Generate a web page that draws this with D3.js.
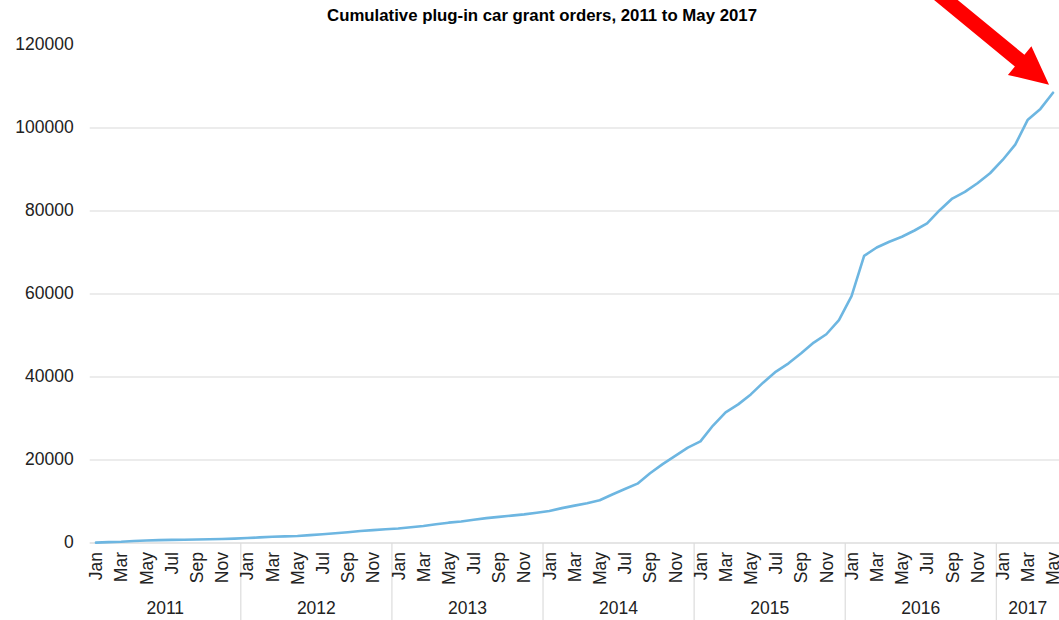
<!DOCTYPE html>
<html>
<head>
<meta charset="utf-8">
<script src="https://cdn.jsdelivr.net/npm/d3@7"></script>
<style>
  html, body { margin: 0; padding: 0; background: #fff; }
  svg { display: block; font-family: "Liberation Sans", Arial, sans-serif; }
</style>
</head>
<body>
<svg id="chart" width="1059" height="620"></svg>
<script>
// ---- data ----
const years = ["2011", "2012", "2013", "2014", "2015", "2016", "2017"];
const monthNames = ["Jan","Feb","Mar","Apr","May","Jun","Jul","Aug","Sep","Oct","Nov","Dec"];
const monthsPerYear = [12, 12, 12, 12, 12, 12, 5];
const values2011 = [100, 200, 300, 500, 600, 700, 750, 800, 850, 900, 950, 1050];
const values2012 = [1200, 1350, 1500, 1600, 1700, 1900, 2100, 2350, 2600, 2900, 3100, 3300];
const values2013 = [3500, 3800, 4100, 4500, 4900, 5200, 5600, 6000, 6300, 6600, 6900, 7300];
const values2014 = [7700, 8400, 9000, 9600, 10300, 11700, 13000, 14300, 16800, 19000, 21000, 23000];
const values2015 = [24500, 28300, 31500, 33400, 35800, 38700, 41300, 43300, 45700, 48300, 50300, 53700];
const values2016 = [59500, 69200, 71200, 72600, 73800, 75300, 77000, 80200, 83000, 84600, 86700, 89100];
const values2017 = [92300, 96000, 102000, 104600, 108500];
const yTicks = [0, 20000, 40000, 60000, 80000, 100000, 120000];
const titleText = "Cumulative plug-in car grant orders, 2011 to May 2017";

const allValues = [values2011, values2012, values2013, values2014, values2015, values2016, values2017];
const data = [];
years.forEach((yr, yi) => {
  for (let m = 0; m < monthsPerYear[yi]; m++) {
    data.push({ key: yr + "-" + m, year: yr, month: monthNames[m], m: m, value: allValues[yi][m] });
  }
});

// ---- layout ----
const svg = d3.select("#chart");
const plotLeft = 89.7, plotRight = 1059.3, plotTop = 45, plotBottom = 543;
const lineColor = "#6db6e1";
const labelFont = 17.5;

const x = d3.scaleBand().domain(data.map(d => d.key)).range([plotLeft, plotRight]).padding(0);
const y = d3.scaleLinear().domain([0, 120000]).range([plotBottom, plotTop]);
const cx = k => x(k) + x.bandwidth() / 2;

// title
svg.append("text")
  .attr("x", 542).attr("y", 21)
  .attr("text-anchor", "middle")
  .attr("font-weight", "bold")
  .attr("font-size", 16.8)
  .attr("fill", "#000")
  .text(titleText);

// gridlines (excluding 0 & top)
svg.append("g").selectAll("line")
  .data(yTicks.filter(t => t > 0 && t < 120000))
  .join("line")
  .attr("x1", plotLeft).attr("x2", plotRight)
  .attr("y1", d => y(d)).attr("y2", d => y(d))
  .attr("stroke", "#e6e6e6").attr("stroke-width", 1.5);

// y axis labels
const yAxis = d3.axisLeft(y).tickValues(yTicks).tickSize(0).tickPadding(0).tickFormat(d3.format("d"));
const yg = svg.append("g").attr("transform", `translate(${plotLeft - 16},0)`).call(yAxis);
yg.select(".domain").remove();
yg.selectAll("text").attr("font-size", labelFont).attr("fill", "#222")
  .attr("font-family", '"Liberation Sans", Arial, sans-serif').attr("dy", "0.28em");

// x baseline
svg.append("line")
  .attr("x1", plotLeft).attr("x2", plotRight)
  .attr("y1", y(0)).attr("y2", y(0))
  .attr("stroke", "#dcdcdc").attr("stroke-width", 1.5);

// year separators
const yearStarts = data.filter(d => d.m === 0 && d.year !== years[0]);
svg.append("g").selectAll("line")
  .data(yearStarts)
  .join("line")
  .attr("x1", d => x(d.key)).attr("x2", d => x(d.key))
  .attr("y1", y(0)).attr("y2", 620)
  .attr("stroke", "#dcdcdc").attr("stroke-width", 1.2);

// month labels (every other month)
const xAxis = d3.axisBottom(x)
  .tickValues(data.filter(d => d.m % 2 === 0).map(d => d.key))
  .tickSize(0)
  .tickFormat(k => data.find(d => d.key === k).month);
const xg = svg.append("g").attr("transform", `translate(0,${y(0)})`).call(xAxis);
xg.select(".domain").remove();
xg.selectAll("text")
  .attr("font-size", labelFont).attr("fill", "#222")
  .attr("font-family", '"Liberation Sans", Arial, sans-serif')
  .attr("text-anchor", "end")
  .attr("transform", "translate(0,9) rotate(-90)")
  .attr("x", 0).attr("y", 0).attr("dy", "0.36em");

// year labels
svg.append("g").selectAll("text")
  .data(years)
  .join("text")
  .attr("x", (yr) => {
    const ks = data.filter(d => d.year === yr);
    return (x(ks[0].key) + x(ks[ks.length - 1].key) + x.bandwidth()) / 2;
  })
  .attr("y", 614)
  .attr("text-anchor", "middle")
  .attr("font-size", labelFont).attr("fill", "#222")
  .text(d => d);

// line
const line = d3.line().x(d => cx(d.key)).y(d => y(d.value)).curve(d3.curveLinear);
svg.append("path")
  .datum(data)
  .attr("d", line)
  .attr("fill", "none")
  .attr("stroke", lineColor)
  .attr("stroke-width", 2.6)
  .attr("stroke-linejoin", "round")
  .attr("stroke-linecap", "round");

// red arrow annotation pointing at the last point
const last = data[data.length - 1];
const tipX = cx(last.key) - 4, tipY = y(last.value) - 8;
const ang = Math.atan2(83, 101); // direction of arrow travel
const ux = Math.cos(ang), uy = Math.sin(ang);
const nx = -uy, ny = ux;
const headLen = 38, headHalf = 18.5, shaftHalf = 7.5, shaftLen = 200;
const bx = tipX - ux * headLen, by = tipY - uy * headLen;
const sx = tipX - ux * shaftLen, sy = tipY - uy * shaftLen;
const pts = [
  [tipX, tipY],
  [bx + nx * headHalf, by + ny * headHalf],
  [bx + nx * shaftHalf, by + ny * shaftHalf],
  [sx + nx * shaftHalf, sy + ny * shaftHalf],
  [sx - nx * shaftHalf, sy - ny * shaftHalf],
  [bx - nx * shaftHalf, by - ny * shaftHalf],
  [bx - nx * headHalf, by - ny * headHalf]
];
svg.append("path")
  .attr("d", d3.line()(pts) + "Z")
  .attr("fill", "#ff0000");
</script>
</body>
</html>
